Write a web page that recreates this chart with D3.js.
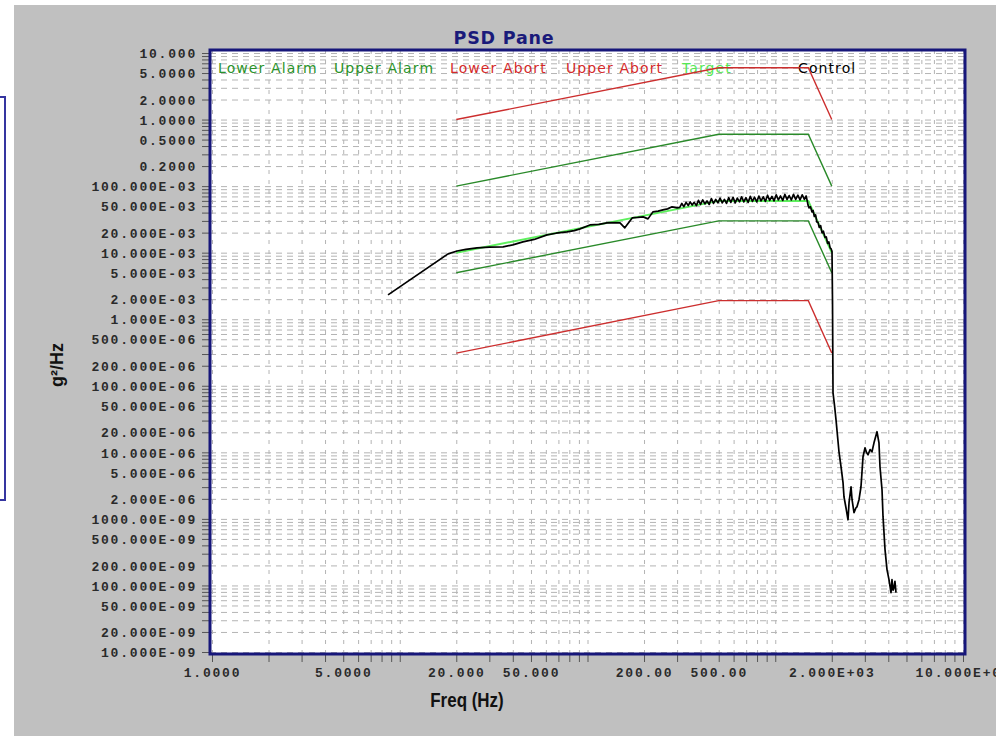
<!DOCTYPE html>
<html><head><meta charset="utf-8">
<script src="https://cdn.jsdelivr.net/npm/d3@7"></script>
<style>html,body{margin:0;padding:0;background:#fff;overflow:hidden}</style>
</head><body>
<svg id="c" width="996" height="736"></svg>
<script>
// ---------- data ----------
const xTickValues = [1, 5, 20, 50, 200, 500, 2000, 10000];
const xTickLabels = ["1.0000","5.0000","20.000","50.000","200.00","500.00","2.000E+03","10.000E+03"];
const yTickValues = [10,5,2,1,0.5,0.2,0.1,0.05,0.02,0.01,5e-3,2e-3,1e-3,5e-4,2e-4,1e-4,5e-5,2e-5,1e-5,5e-6,2e-6,1e-6,5e-7,2e-7,1e-7,5e-8,2e-8,1e-8];
const yTickLabels = ["10.000","5.0000","2.0000","1.0000","0.5000","0.2000",
  "100.000E-03","50.000E-03","20.000E-03","10.000E-03","5.000E-03","2.000E-03","1.000E-03",
  "500.000E-06","200.000E-06","100.000E-06","50.000E-06","20.000E-06","10.000E-06","5.000E-06","2.000E-06",
  "1000.00E-09","500.000E-09","200.000E-09","100.000E-09","50.000E-09","20.000E-09","10.000E-09"];
const legendNames = ["Lower Alarm","Upper Alarm","Lower Abort","Upper Abort","Target","Control"];

const profileFreq    = [20, 500, 1500, 2000];
const targetVals     = [0.01, 0.06, 0.06, 0.01];
const lowerAlarmVals = [0.005, 0.03, 0.03, 0.005];
const upperAlarmVals = [0.1, 0.6, 0.6, 0.1];
const lowerAbortVals = [3.1e-4, 1.9e-3, 1.9e-3, 3.1e-4];
const upperAbortVals = [1.0, 6.0, 6.0, 1.0];

const controlFreq = [8.66,18.1,20.2,22.5,25.8,30,35.5,40,45.3,52,60.9,68,77.8,85,91.2,103,115,127,140,149,158,173,185,198,210,223,238,252,267,282,300,
  310,318,326,335,344,352,361,370,380,390,400,411,422,433,445,457,469,482,495,508,522,536,550,565,580,596,612,628,645,662,680,698,717,736,756,776,797,818,840,863,886,910,934,960,985,1012,1039,1067,1096,1125,1155,1186,1218,1251,1285,1320,1355,1392,1430,1460,1480,
  1494,1515,1540,1570,1590,1615,1640,1665,1690,1715,1745,1775,1805,1840,1870,1900,1930,1960,1985,2006,
  2018,2031,2070,2107,2185,2240,2296,2323,2381,2441,2472,2533,2565,2627,2692,2725,2793,2862,2934,3007,3060,3120,3200,3275,3357,3483,3568,3613,3704,3750,3843,3937,4035,4135,4185,4240,4290,4340,4396];
const controlVals = [2.32e-3,9.6e-3,0.0106,0.0112,0.0118,0.0121,0.0122,0.0131,0.0145,0.0158,0.0185,0.0196,0.0205,0.0214,0.0228,0.0261,0.0266,0.028,0.0283,0.028,0.0236,0.0333,0.0338,0.0345,0.0322,0.041,0.042,0.044,0.0455,0.0488,0.047,
  0.048,0.055,0.049,0.057,0.051,0.058,0.052,0.057,0.051,0.061,0.053,0.062,0.054,0.060,0.053,0.065,0.055,0.063,0.056,0.066,0.056,0.063,0.055,0.067,0.057,0.068,0.056,0.066,0.058,0.069,0.058,0.067,0.057,0.070,0.059,0.068,0.058,0.071,0.060,0.069,0.059,0.073,0.061,0.070,0.060,0.074,0.062,0.071,0.061,0.075,0.063,0.072,0.062,0.075,0.063,0.073,0.062,0.074,0.063,0.071,0.060,
  0.0522,0.047,0.049,0.041,0.043,0.035,0.037,0.029,0.0285,0.024,0.0255,0.0198,0.021,0.017,0.0172,0.0138,0.0145,0.0118,0.0114,0.0103,
  1.95e-3,7.85e-5,5e-5,3.08e-5,1.02e-5,6.08e-6,3.5e-6,2.15e-6,1.47e-6,9.7e-7,1.75e-6,3.04e-6,1.94e-6,1.24e-6,1.47e-6,1.52e-6,1.94e-6,3.04e-6,8.6e-6,1.17e-5,1.0e-5,9.2e-6,1.1e-5,1.02e-5,1.39e-5,2.04e-5,1.39e-5,6.08e-6,2.74e-6,1.08e-6,3.45e-7,1.73e-7,1.22e-7,7.8e-8,1.22e-7,8.5e-8,9.27e-8,1.15e-7,7.8e-8];

// ---------- layout ----------
const svg = d3.select("#c");
const W = 996, H = 736;
const frame = {x0: 210, x1: 965, y0: 50, y1: 654};
const x = d3.scaleLog().domain([1, 10000]).range([212, 963]);
const y = d3.scaleLog().domain([1e-8, 10]).range([652, 53]);

// backgrounds
svg.append("rect").attr("width", W).attr("height", H).attr("fill", "#ffffff");
svg.append("rect").attr("x", 14).attr("y", 5).attr("width", W - 14).attr("height", H - 5).attr("fill", "#c0c0c0");
svg.append("path").attr("d", "M0,97 H5 V500 H0").attr("fill", "none").attr("stroke", "#3535a0").attr("stroke-width", 2);
svg.append("rect").attr("x", frame.x0).attr("y", frame.y0).attr("width", frame.x1 - frame.x0).attr("height", frame.y1 - frame.y0).attr("fill", "#ffffff");

// minor tick values
const minorX = [];
for (let e = 0; e <= 3; e++) for (let k = 1; k <= 9; k++) minorX.push(k * Math.pow(10, e));
minorX.push(10000);
const minorY = [];
for (let e = -8; e <= 0; e++) for (let k = 1; k <= 9; k++) minorY.push(k * Math.pow(10, e));
minorY.push(10);

// grid
const gridX = svg.append("g").attr("transform", `translate(0,${frame.y1})`)
  .call(d3.axisBottom(x).tickValues(minorX).tickSize(-(frame.y1 - frame.y0)).tickFormat(""));
gridX.select(".domain").remove();
gridX.selectAll("line").attr("stroke", "#b4b4b4").attr("stroke-dasharray", "4,6");
const gridY = svg.append("g").attr("transform", `translate(${frame.x0},0)`)
  .call(d3.axisRight(y).tickValues(minorY).tickSize(frame.x1 - frame.x0).tickFormat(""));
gridY.select(".domain").remove();
gridY.selectAll("line").attr("stroke", "#b4b4b4").attr("stroke-dasharray", "6,5");

// outside ticks
const tx = svg.append("g").attr("transform", `translate(0,${frame.y1 + 1})`)
  .call(d3.axisBottom(x).tickValues(minorX).tickSize(7).tickFormat(""));
tx.select(".domain").remove();
tx.selectAll("line").attr("stroke", "#555");
const ty = svg.append("g").attr("transform", `translate(${frame.x0 - 1},0)`)
  .call(d3.axisLeft(y).tickValues(minorY).tickSize(7).tickFormat(""));
ty.select(".domain").remove();
ty.selectAll("line").attr("stroke", "#555");

// tick labels
const ax = svg.append("g").attr("transform", `translate(0,${frame.y1 + 1})`)
  .call(d3.axisBottom(x).tickValues(xTickValues).tickSize(0).tickPadding(0)
    .tickFormat((d, i) => xTickLabels[i]));
ax.select(".domain").remove();
ax.selectAll("text").attr("dy", null).attr("y", 22)
  .style("font-family", "'Liberation Mono', monospace").style("font-weight", "bold")
  .style("font-size", "13px").style("letter-spacing", "1.8px").attr("fill", "#2a2a2a");
const ay = svg.append("g").attr("transform", `translate(${frame.x0 - 13},0)`)
  .call(d3.axisLeft(y).tickValues(yTickValues).tickSize(0).tickPadding(0)
    .tickFormat((d, i) => yTickLabels[i]));
ay.select(".domain").remove();
ay.selectAll("text").attr("dy", "0.36em")
  .style("font-family", "'Liberation Mono', monospace").style("font-weight", "bold")
  .style("font-size", "13px").style("letter-spacing", "1.8px").attr("fill", "#2a2a2a");

// title & axis titles
svg.append("text").attr("x", 504).attr("y", 44).attr("text-anchor", "middle")
  .style("font-family", "'DejaVu Sans', sans-serif").style("font-weight", "bold")
  .style("font-size", "17.5px").style("letter-spacing", "0.8px").attr("fill", "#1a1a7a").text("PSD Pane");
svg.append("text").attr("transform", "translate(467,707) scale(0.87,1)").attr("text-anchor", "middle")
  .style("font-family", "'Liberation Sans', Arial, sans-serif").style("font-weight", "bold")
  .style("font-size", "19.5px").attr("fill", "#111").text("Freq (Hz)");
svg.append("text").attr("transform", "translate(63,365) rotate(-90)").attr("text-anchor", "middle")
  .style("font-family", "'Liberation Sans', Arial, sans-serif").style("font-weight", "bold")
  .style("font-size", "18px").attr("fill", "#111").text("g²/Hz");

// legend
const legendColors = ["#2a922a", "#2a922a", "#d42a2a", "#d42a2a", "#55e855", "#000000"];
svg.append("g").selectAll("text").data(legendNames).join("text")
  .attr("x", (d, i) => 218 + i * 116).attr("y", 73)
  .style("font-family", "'DejaVu Sans', sans-serif").style("font-size", "14px")
  .style("letter-spacing", "1.1px")
  .attr("fill", (d, i) => legendColors[i]).text(d => d);

// lines
svg.append("clipPath").attr("id", "pc").append("rect")
  .attr("x", frame.x0).attr("y", frame.y0).attr("width", frame.x1 - frame.x0).attr("height", frame.y1 - frame.y0);
const plot = svg.append("g").attr("clip-path", "url(#pc)");
const line = d3.line().x(d => x(d[0])).y(d => y(d[1]));
const zipP = vals => profileFreq.map((f, i) => [f, vals[i]]);
plot.append("path").datum(zipP(targetVals)).attr("d", line).attr("fill", "none").attr("stroke", "#5ef05e").attr("stroke-width", 2);
const series = [
  [lowerAlarmVals, "#2a8a2a"], [upperAlarmVals, "#2a8a2a"],
  [lowerAbortVals, "#cc2e2e"], [upperAbortVals, "#cc2e2e"]
];
series.forEach(([vals, col]) => {
  plot.append("path").datum(zipP(vals)).attr("d", line).attr("fill", "none").attr("stroke", col).attr("stroke-width", 1.4);
});
plot.append("path").datum(controlFreq.map((f, i) => [f, controlVals[i]])).attr("d", line)
  .attr("fill", "none").attr("stroke", "#000").attr("stroke-width", 1.7).attr("stroke-linejoin", "round");

// frame
svg.append("rect").attr("x", frame.x0).attr("y", frame.y0).attr("width", frame.x1 - frame.x0).attr("height", frame.y1 - frame.y0)
  .attr("fill", "none").attr("stroke", "#16167a").attr("stroke-width", 3);
</script>
</body></html>
